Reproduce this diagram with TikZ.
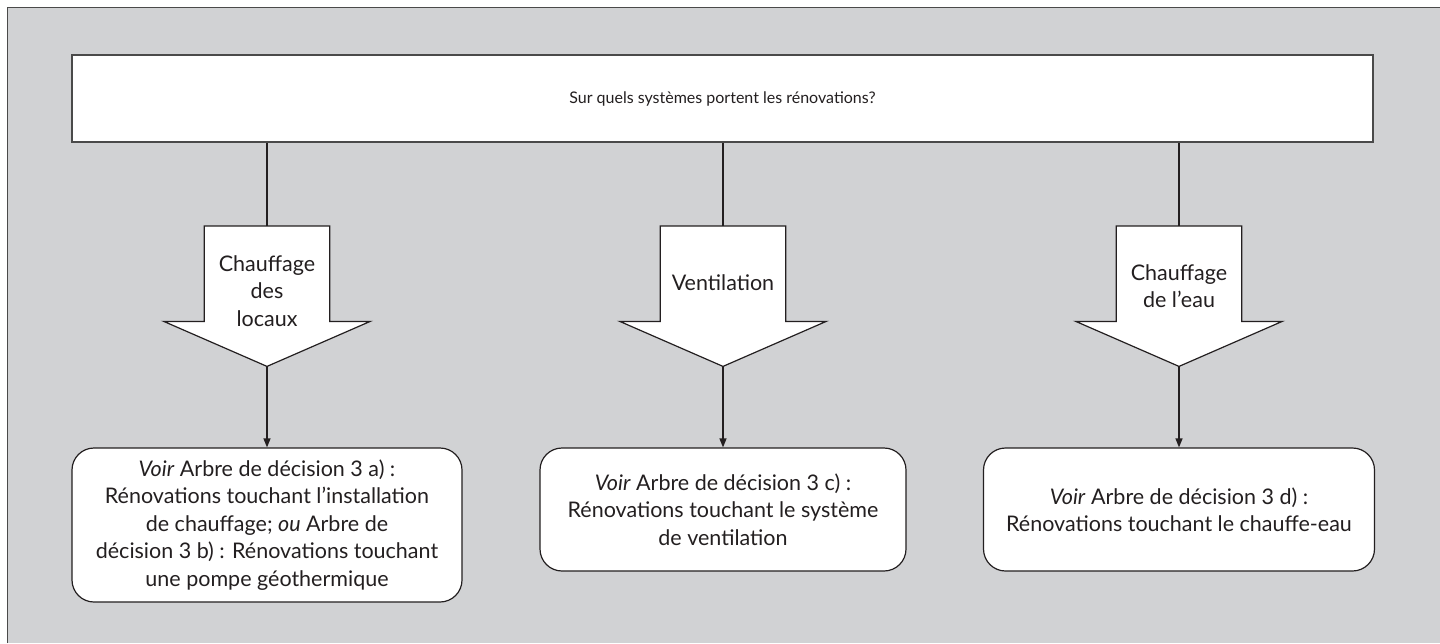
\documentclass[tikz,border=0pt]{standalone}
\usepackage{fontspec}
\setmainfont{Lato}
\usetikzlibrary{arrows.meta,calc}
\definecolor{panel}{HTML}{D1D2D4}
\definecolor{ink}{HTML}{231F20}
\definecolor{rim}{HTML}{4A4A4A}
\begin{document}
\begin{tikzpicture}[x=1pt,y=-1pt,
  txt/.style={font=\fontsize{21.5}{27.5}\selectfont, text=ink, align=center},
  topbox/.style={draw=rim, line width=1.6pt, fill=white, minimum width=1301pt,
    minimum height=87pt, inner sep=0pt, txt, font=\fontsize{16}{20}\selectfont},
  shaft/.style={minimum width=125pt, minimum height=95pt, inner sep=0pt},
  blockarrow/.style={draw=ink, line width=1.2pt, fill=white, line join=miter},
  result/.style={draw=ink, line width=1.2pt, fill=white, rounded corners=22pt,
    inner sep=0pt, txt},
  link/.style={draw=ink, line width=1.3pt},
  pointer/.style={link, -{Triangle[length=9pt,width=7pt]}}
]
\useasboundingbox (0,0) rectangle (1440,643);
% panel and its frame
\fill[panel] (7.5,7.5) rectangle (1440,643);
\draw[rim, line width=1.5pt] (7.5,643) -- (7.5,7.5) -- (1440,7.5);

% question
\node[topbox] (q) at (722.5,98.5) {Sur quels systèmes portent les rénovations?};

% block arrows
\foreach \n/\cx in {1/267,2/723,3/1179}{
  \node[shaft, anchor=north] (b\n) at (\cx,226) {};
  \draw[blockarrow] (b\n.north west) -- (b\n.north east) -- (b\n.south east)
    -- ([xshift=40.5pt]b\n.south east) -- ([yshift=-45pt]b\n.south)
    -- ([xshift=-40.5pt]b\n.south west) -- (b\n.south west) -- cycle;
  \coordinate (t\n) at ([yshift=-45pt]b\n.south);
}
\node[txt] (l1) at (267,291) {Chauffage\\des\\locaux};
\node[txt] (l2) at (723,283) {Ventilation};
\node[txt] (l3) at (1179,286) {Chauffage\\de l’eau};

% results
\node[result, minimum width=390pt, minimum height=154pt] (r1) at (267,525)
  {\textit{Voir} Arbre de décision 3 a) :\\Rénovations touchant l’installation\\de chauffage; \textit{ou} Arbre de\\décision 3 b) : Rénovations touchant\\une pompe géothermique};
\node[result, minimum width=366pt, minimum height=123pt] (r2) at (723,509.5)
  {\textit{Voir} Arbre de décision 3 c) :\\Rénovations touchant le système\\de ventilation};
\node[result, minimum width=391pt, minimum height=123pt] (r3) at (1179,509.5)
  {\textit{Voir} Arbre de décision 3 d) :\\Rénovations touchant le chauffe-eau};

% connectors
\foreach \n in {1,2,3}{
  \draw[link] (q.south -| b\n.north) -- (b\n.north);
  \draw[pointer] (t\n) -- (r\n.north);
}
\end{tikzpicture}
\end{document}
